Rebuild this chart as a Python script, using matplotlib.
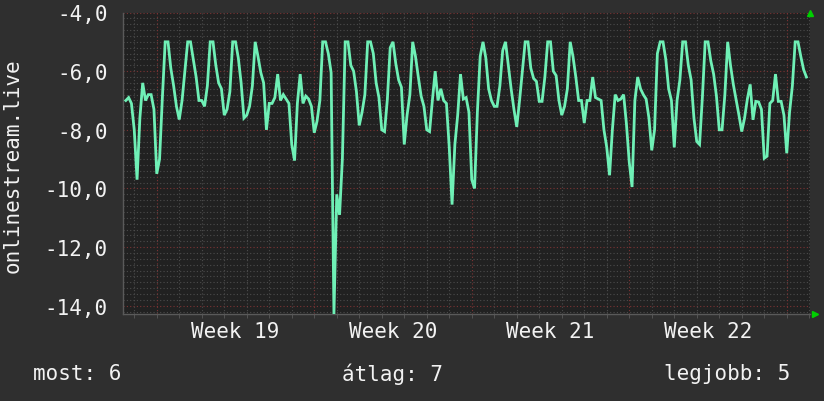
import numpy as np
import matplotlib.pyplot as plt

# --- data: 3-hour samples, x in days from the left edge of the graph ---
start_day = 0.125
step_day = 0.125

vals_a = [-7.0, -6.9, -7.1, -8.0, -9.7, -7.6, -6.4, -7.0,
          -6.8, -6.8, -7.3, -9.5, -9.0, -6.9, -5.0, -5.0,
          -5.9, -6.5, -7.2, -7.65, -7.0, -6.0, -5.0, -5.0,
          -5.6, -6.2, -7.0, -7.0, -7.2, -6.5, -5.0, -5.0,
          -5.8, -6.4, -6.6, -7.5, -7.3, -6.7, -5.0, -5.0]
vals_b = [-5.55, -6.4, -7.6, -7.5, -7.2, -6.5, -5.0, -5.5,
          -6.05, -6.4, -8.0, -7.1, -7.1, -6.9, -6.1, -7.0,
          -6.8, -6.95, -7.1, -8.5, -9.05, -7.1, -6.1, -7.1,
          -6.85, -6.95, -7.2, -8.1, -7.7, -7.0, -5.0, -5.0,
          -5.4, -6.05, -14.28, -10.2, -10.9, -9.0, -5.0, -5.0,
          -5.8]
vals_c = [-6.0, -6.7, -7.85, -7.4, -6.8, -5.0, -5.0, -5.4,
          -6.4, -6.9, -8.0, -8.06, -6.95, -5.2, -5.0, -5.75,
          -6.3, -6.55, -8.5, -7.5, -6.8, -5.0, -5.5, -6.2,
          -6.85, -7.2, -8.0, -8.06, -7.0, -6.0, -7.0, -6.6,
          -7.0, -7.1, -8.6, -10.55, -8.5, -7.5, -6.1, -6.95,
          -6.9, -7.4]
vals_d = [-9.7, -10.0, -7.4, -5.5, -5.0, -5.55, -6.6, -7.0,
          -7.2, -7.2, -6.5, -5.3, -5.0, -5.8, -6.6, -7.3,
          -7.9, -7.0, -6.0, -5.0, -5.0, -5.9, -6.25, -6.35,
          -7.03, -7.03, -6.2, -5.0, -5.0, -6.0, -6.15, -7.0,
          -7.5, -7.2, -6.6, -5.0, -5.5, -6.2, -7.0, -7.0,
          -7.77]
vals_e = [-7.0, -7.0, -6.2, -6.9, -6.95, -7.0, -8.0, -8.6,
          -9.55, -8.0, -6.8, -7.0, -6.95, -6.8, -7.8, -9.1,
          -9.95, -7.0, -6.2, -6.6, -6.8, -6.95, -7.6, -8.7,
          -8.0, -5.4, -5.0, -5.0, -5.6, -6.6, -7.0, -8.6,
          -7.0, -6.3, -5.0, -5.0, -5.8, -6.3, -7.6, -8.4,
          -8.5]
vals_f = [-6.9, -5.0, -5.0, -5.65, -6.1, -6.85, -8.0, -8.0,
          -6.8, -5.0, -5.8, -6.45, -6.97, -7.5, -8.06, -7.6,
          -6.95, -6.45, -7.66, -7.03, -7.05, -7.3, -8.97, -8.9,
          -7.1, -7.0, -6.1, -7.03, -7.03, -7.5, -8.8, -7.4,
          -6.5, -5.0, -5.0, -5.5, -5.95, -6.2]

week_labels = ["Week 19", "Week 20", "Week 21", "Week 22"]
week_starts = [1.5, 8.5, 15.5, 22.5, 29.5]
y_ticks = [-4, -6, -8, -10, -12, -14]

series_name = "onlinestream.live"
summary = ["most: 6", "átlag: 7", "legjobb: 5"]

values = np.array(vals_a + vals_b + vals_c + vals_d + vals_e + vals_f)
days = start_day + step_day * np.arange(len(values))

# --- styles ---
BG = "#2f2f2f"
CANVAS = "#212121"
TXT = "#f2f2f2"
LINE = "#6ff0b6"
plt.rcParams["font.family"] = ["DejaVu Sans Mono"]

fig = plt.figure(figsize=(8.24, 4.02), dpi=100, facecolor=BG)
ax = fig.add_axes([123/824, 1 - 315/402, 687/824, 301.5/402])
ax.set_facecolor(CANVAS)
x_max = 687 / 22.5
ax.set_xlim(0, x_max)
ax.set_ylim(-14.28, -4.0)

# grid
for y in np.arange(-14.2, -3.9, 0.2):
    if abs(y - round(y)) < 1e-6 and round(y) % 2 == 0:
        continue
    ax.axhline(y, color="#4c4c4c", lw=0.8, ls=(0, (1, 2)), zorder=1)
for y in y_ticks:
    ax.axhline(y, color="#7c3434", lw=0.8, ls=(0, (1, 2)), zorder=1)
for d in np.arange(0.5, x_max, 1.0):
    c = "#7c3434" if d in week_starts else "#4c4c4c"
    ax.axvline(d, color=c, lw=0.8, ls=(0, (1, 2)), zorder=1)

ax.plot(days, values, color=LINE, lw=2.0, zorder=3, solid_joinstyle="miter")

# axes
for s in ["top", "right"]:
    ax.spines[s].set_visible(False)
for s in ["left", "bottom"]:
    ax.spines[s].set_color("#5a5a5a")
    ax.spines[s].set_linewidth(1.0)
ax.plot([1.0], [1.0], marker="^", color="#00d000", ms=4, transform=ax.transAxes,
        clip_on=False, zorder=5)
ax.plot([1.0 + 5/687], [0.0], marker=">", color="#00d000", ms=4, transform=ax.transAxes,
        clip_on=False, zorder=5)

ax.set_yticks(y_ticks)
ax.set_yticklabels([f"{v:.1f}".replace(".", ",") for v in y_ticks])
ax.tick_params(axis="y", length=0, pad=11, labelsize=15, labelcolor=TXT)

mids = [(a + b) / 2 for a, b in zip(week_starts[:-1], week_starts[1:])]
ax.set_xticks(mids)
ax.set_xticklabels(week_labels)
ax.tick_params(axis="x", length=0, pad=5, labelsize=15, labelcolor=TXT)
ax.set_xticks(np.arange(0.5, x_max, 1.0), minor=True)
ax.tick_params(axis="x", which="minor", length=3, color="#5a5a5a", direction="out")
for t in ax.xaxis.get_minor_ticks():
    if t.get_loc() in week_starts:
        t.tick1line.set_color("#7c3434")

fig.text(13/824, 1 - 166/402, series_name, rotation=90, ha="center", va="center",
         color=TXT, fontsize=15)
fig.text(33/824, 1 - 374/402, summary[0], ha="left", va="center", color=TXT, fontsize=15)
fig.text(392/824, 1 - 374/402, summary[1], ha="center", va="center", color=TXT, fontsize=15)
fig.text(790/824, 1 - 374/402, summary[2], ha="right", va="center", color=TXT, fontsize=15)

fig.savefig("out.png", dpi=100, facecolor=BG)
